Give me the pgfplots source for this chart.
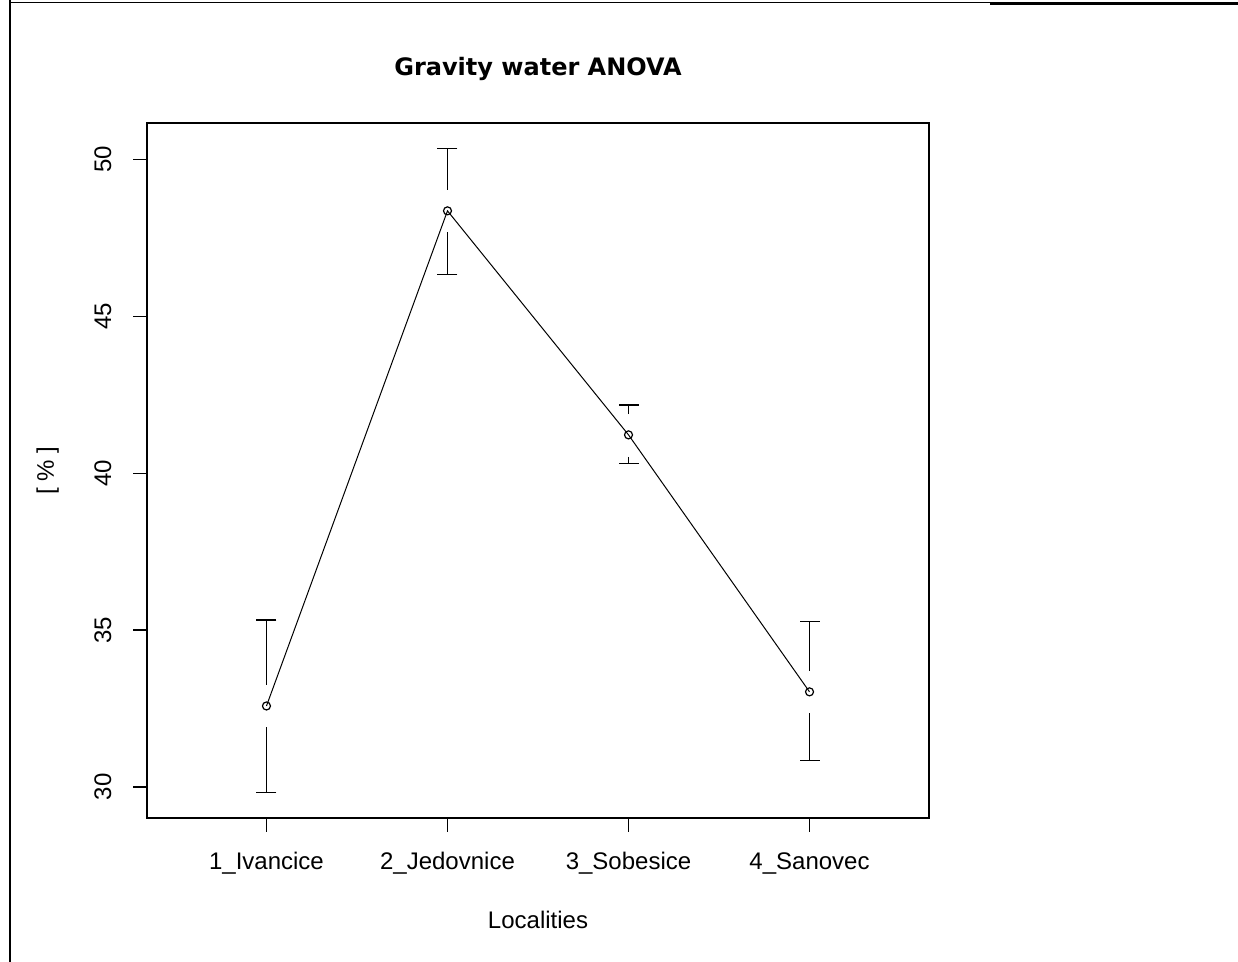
\documentclass[border=0pt]{standalone}
\usepackage{fontspec}
\setmainfont{Liberation Sans}
\newfontfamily\titlefont{DejaVu Sans}
\usepackage{pgfplots}
\pgfplotsset{compat=1.18}
\begin{document}
\begin{tikzpicture}
\path[use as bounding box] (0,0) rectangle (619pt,481pt);
\fill[white] (0,0) rectangle (619pt,481pt);
% frame remnants
\draw[black, line width=1pt] (5pt,0) -- (5pt,481pt);
\draw[black, line width=0.5pt] (5pt,479.5pt) -- (495pt,479.5pt);
\draw[black, line width=1.2pt] (495pt,479.2pt) -- (619pt,479.2pt);
\begin{axis}[
  at={(73.5pt,72pt)}, anchor=south west,
  scale only axis, width=391pt, height=347.5pt,
  xmin=0.34, xmax=4.66, ymin=29.01, ymax=51.16,
  axis line style={line width=0.6pt},
  tick style={black, line width=0.6pt},
  tick align=outside, major tick length=7pt,
  xtick pos=bottom, ytick pos=left,
  xtick={1,2,3,4},
  xticklabels={1\_Ivancice,2\_Jedovnice,3\_Sobesice,4\_Sanovec},
  ytick={30,35,40,45,50},
  /pgf/number format/assume math mode=true,
  every tick label/.append style={font=\fontsize{12pt}{14pt}\selectfont},
  xticklabel style={anchor=base, yshift=-19pt},
  yticklabel style={rotate=90, anchor=base, yshift=11pt},
  title={\titlefont\bfseries Gravity water ANOVA},
  title style={at={(0.5,1)}, anchor=base, yshift=17.5pt, font=\fontsize{12pt}{14pt}\selectfont},
  xlabel={Localities},
  xlabel style={at={(0.5,0)}, anchor=base, yshift=-55.5pt, font=\fontsize{12pt}{14pt}\selectfont},
  ylabel={[ \% ]},
  ylabel style={at={(0,0.5)}, anchor=base, yshift=46.5pt, font=\fontsize{12pt}{14pt}\selectfont},
  clip=false,
]
% means line with circle markers
\addplot[black, line width=0.5pt, mark=o, mark size=2pt, mark options={line width=0.6pt}]
  coordinates {(1,32.58) (2,48.36) (3,41.22) (4,33.03)};
% confidence interval segments (with gap around the mean)
\addplot[black, line width=0.6pt, unbounded coords=jump] coordinates {
  (1,33.26) (1,35.32) (1,nan)
  (1,31.90) (1,29.83) (1,nan)
  (2,49.04) (2,50.34) (2,nan)
  (2,47.68) (2,46.33) (2,nan)
  (3,41.88) (3,42.17) (3,nan)
  (3,40.52) (3,40.30) (3,nan)
  (4,33.71) (4,35.26) (4,nan)
  (4,32.35) (4,30.83)
};
% caps
\addplot[black, only marks, mark=-, mark size=5pt, mark options={line width=0.6pt}] coordinates {
  (1,35.32) (1,29.83) (2,50.34) (2,46.33) (3,42.17) (3,40.30) (4,35.26) (4,30.83)
};
\end{axis}
\end{tikzpicture}
\end{document}
